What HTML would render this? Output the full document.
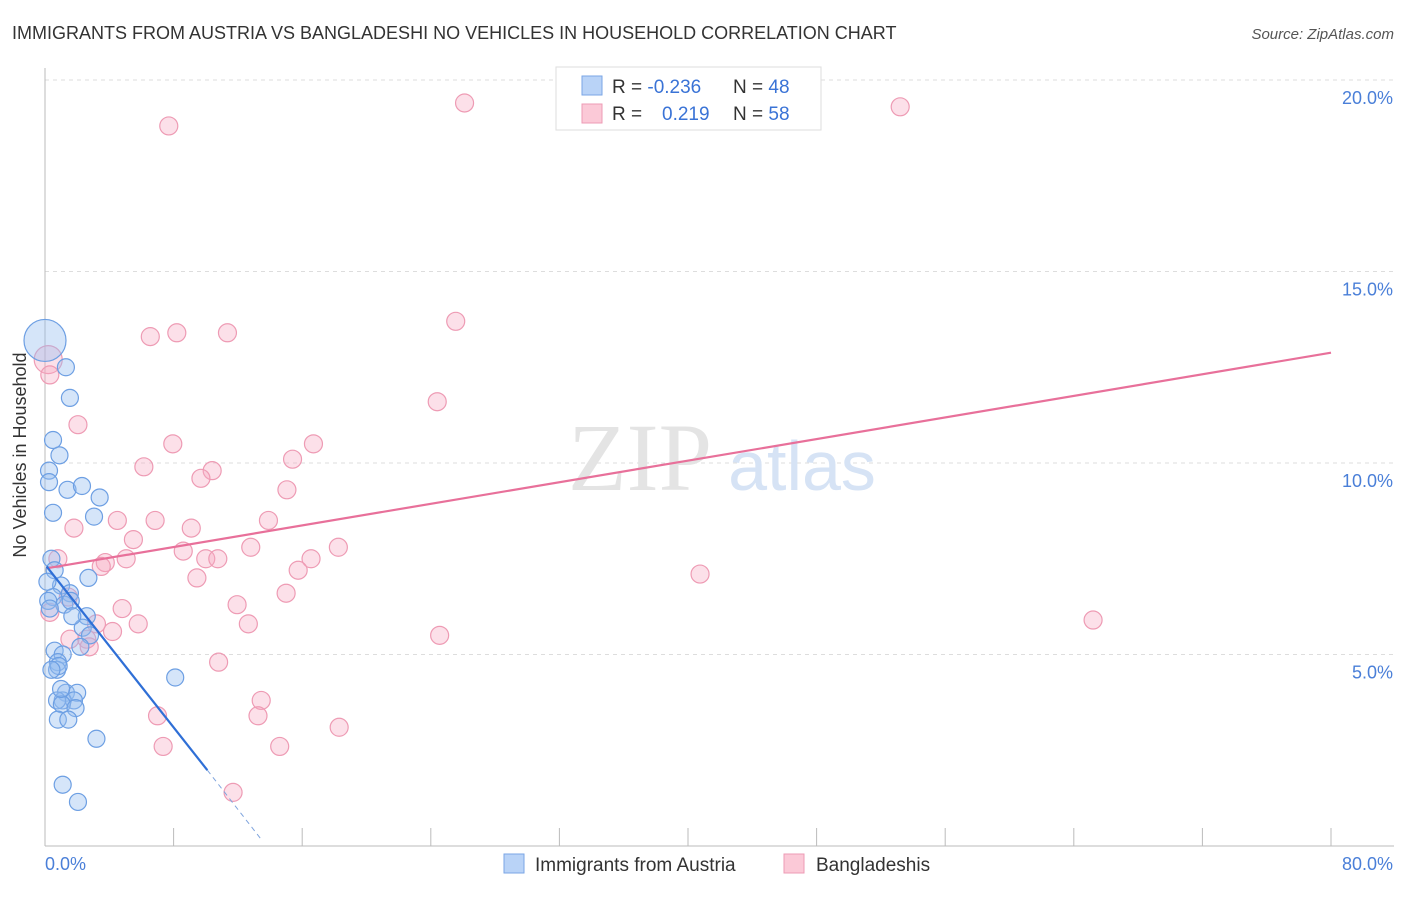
<!DOCTYPE html>
<html><head><meta charset="utf-8"><style>
body{margin:0;background:#fff;font-family:"Liberation Sans",sans-serif}
</style></head><body>
<svg width="1406" height="892" xmlns="http://www.w3.org/2000/svg" font-family="Liberation Sans, sans-serif">
<text x="12" y="39" font-size="18" fill="#333">IMMIGRANTS FROM AUSTRIA VS BANGLADESHI NO VEHICLES IN HOUSEHOLD CORRELATION CHART</text>
<text x="1394" y="39" font-size="15" fill="#555" font-style="italic" text-anchor="end">Source: ZipAtlas.com</text>
<g id="grid"></g>
<text x="640" y="490" font-size="96" fill="#e4e4e4" font-family="Liberation Serif, serif" text-anchor="middle">ZIP</text>
<text x="802" y="490" font-size="70" fill="#d6e3f5" text-anchor="middle">atlas</text>
<g id="pts"></g>
<g id="trend"></g>
<text x="26" y="455" font-size="18" fill="#333" text-anchor="middle" transform="rotate(-90 26 455)">No Vehicles in Household</text>
<text x="45" y="870" font-size="18" fill="#4a7fd8">0.0%</text>
<text x="1393" y="870" font-size="18" fill="#4a7fd8" text-anchor="end">80.0%</text>
<g>
<rect x="556" y="67" width="265" height="63" fill="#fff" stroke="#ddd"/>
<rect x="582" y="76" width="20" height="19" fill="#b9d3f7" stroke="#7aa6e6"/>
<rect x="582" y="104" width="20" height="19" fill="#fbc9d7" stroke="#ee9bb4"/>
<text x="612" y="93" font-size="19" fill="#333">R = <tspan fill="#3a73d6">-0.236</tspan></text>
<text x="733" y="93" font-size="19" fill="#333">N = <tspan fill="#3a73d6">48</tspan></text>
<text x="612" y="120" font-size="19" fill="#333">R = <tspan x="662" fill="#3a73d6">0.219</tspan></text>
<text x="733" y="120" font-size="19" fill="#333">N = <tspan fill="#3a73d6">58</tspan></text>
</g>
<g>
<rect x="504" y="854" width="20" height="19" fill="#b9d3f7" stroke="#7aa6e6"/>
<text x="535" y="871" font-size="19" fill="#333">Immigrants from Austria</text>
<rect x="784" y="854" width="20" height="19" fill="#fbc9d7" stroke="#ee9bb4"/>
<text x="816" y="871" font-size="19" fill="#333">Bangladeshis</text>
</g>
</svg>
<script>
const yTicks=[5,10,15,20];
const yTickLabels=["5.0%","10.0%","15.0%","20.0%"];
const xTicks=[0,8,16,24,32,40,48,56,64,72,80];
const austriaX=[0,1.3,1.55,0.5,0.9,0.25,0.25,1.4,2.3,3.4,0.5,3.05,0.4,0.6,2.7,1.0,1.55,0.5,1.2,1.6,2.6,2.35,1.7,2.8,0.6,1.1,0.8,0.75,0.85,1.3,2.0,1.1,1.8,0.75,1.05,1.9,0.8,1.45,8.1,3.2,1.1,2.05,0.15,0.2,0.3,2.2,0.4,1.0];
const austriaY=[13.2,12.5,11.7,10.6,10.2,9.8,9.5,9.3,9.4,9.1,8.7,8.6,7.5,7.2,7.0,6.8,6.6,6.5,6.3,6.4,6.0,5.7,6.0,5.5,5.1,5.0,4.8,4.6,4.7,4.0,4.0,3.8,3.8,3.8,3.7,3.6,3.3,3.3,4.4,2.8,1.6,1.15,6.9,6.4,6.2,5.2,4.6,4.1];
const bangX=[0.2,0.3,2.05,1.8,0.8,3.75,3.5,5.05,5.5,4.5,6.85,6.15,7.95,6.55,8.2,11.35,25.55,24.4,16.7,15.4,10.4,9.7,15.05,13.9,9.1,8.6,10.0,10.75,12.8,16.55,18.25,15.75,9.45,15.0,1.45,0.3,4.8,3.2,5.8,4.2,11.95,12.65,1.55,2.6,2.75,10.8,7.0,7.35,13.45,13.25,14.6,18.3,11.7,40.75,24.55,65.2,7.7,26.1,53.2];
const bangY=[12.7,12.3,11.0,8.3,7.5,7.4,7.3,7.5,8.0,8.5,8.5,9.9,10.5,13.3,13.4,13.4,13.7,11.6,10.5,10.1,9.8,9.6,9.3,8.5,8.3,7.7,7.5,7.5,7.8,7.5,7.8,7.2,7.0,6.6,6.5,6.1,6.2,5.8,5.8,5.6,6.3,5.8,5.4,5.4,5.2,4.8,3.4,2.6,3.8,3.4,2.6,3.1,1.4,7.1,5.5,5.9,18.8,19.4,19.3];
const X=v=>45+v*16.075, Y=v=>846-v*38.3;
const NS="http://www.w3.org/2000/svg";
function mk(t,a,p){const e=document.createElementNS(NS,t);for(const k in a)e.setAttribute(k,a[k]);p.appendChild(e);return e;}
const g=document.getElementById('grid');
yTicks.forEach((v,i)=>{
 const l=mk('line',{x1:45,x2:1394,y1:Y(v),y2:Y(v),stroke:'#ddd','stroke-dasharray':'4 4'},g);
 
 
 const t=mk('text',{x:1393,y:Y(v)+24,'font-size':18,fill:'#4a7fd8','text-anchor':'end'},g);
 t.textContent=yTickLabels[i];
 
 
});
mk('line',{x1:45,x2:45,y1:68,y2:846,stroke:'#bbb'},g);
mk('line',{x1:45,x2:1394,y1:846,y2:846,stroke:'#bbb'},g);
xTicks.forEach(v=>{
 const l=mk('line',{x1:X(v),x2:X(v),y1:828,y2:846,stroke:'#bbb'},g);
 
 
});
const p=document.getElementById('pts');
bangX.forEach((v,i)=>{
 const c=mk('circle',{cx:X(v),cy:Y(bangY[i]),r:(i<1?14:9),fill:'rgba(247,166,192,0.35)',stroke:'#ee9bb4','stroke-width':1.2},p);
 
 
});
austriaX.forEach((v,i)=>{
 const c=mk('circle',{cx:X(v),cy:Y(austriaY[i]),r:(i==0?21:8.5),fill:'rgba(150,190,240,0.4)',stroke:'#6d9fe3','stroke-width':1.2},p);
 
 
});
const tr=document.getElementById('trend');
const l1=mk('line',{x1:X(0.1),y1:Y(7.25),x2:X(80),y2:Y(12.88),stroke:'#e8709a','stroke-width':2.2},tr);


const l2=mk('line',{x1:X(0.1),y1:Y(7.3),x2:X(10.1),y2:Y(1.98),stroke:'#2f6fd6','stroke-width':2.2},tr);


const l3=mk('line',{x1:X(10.1),y1:Y(1.98),x2:X(13.4),y2:Y(0.2),stroke:'#7fa4dd','stroke-width':1,'stroke-dasharray':'5 4'},tr);


</script>
</body></html>
